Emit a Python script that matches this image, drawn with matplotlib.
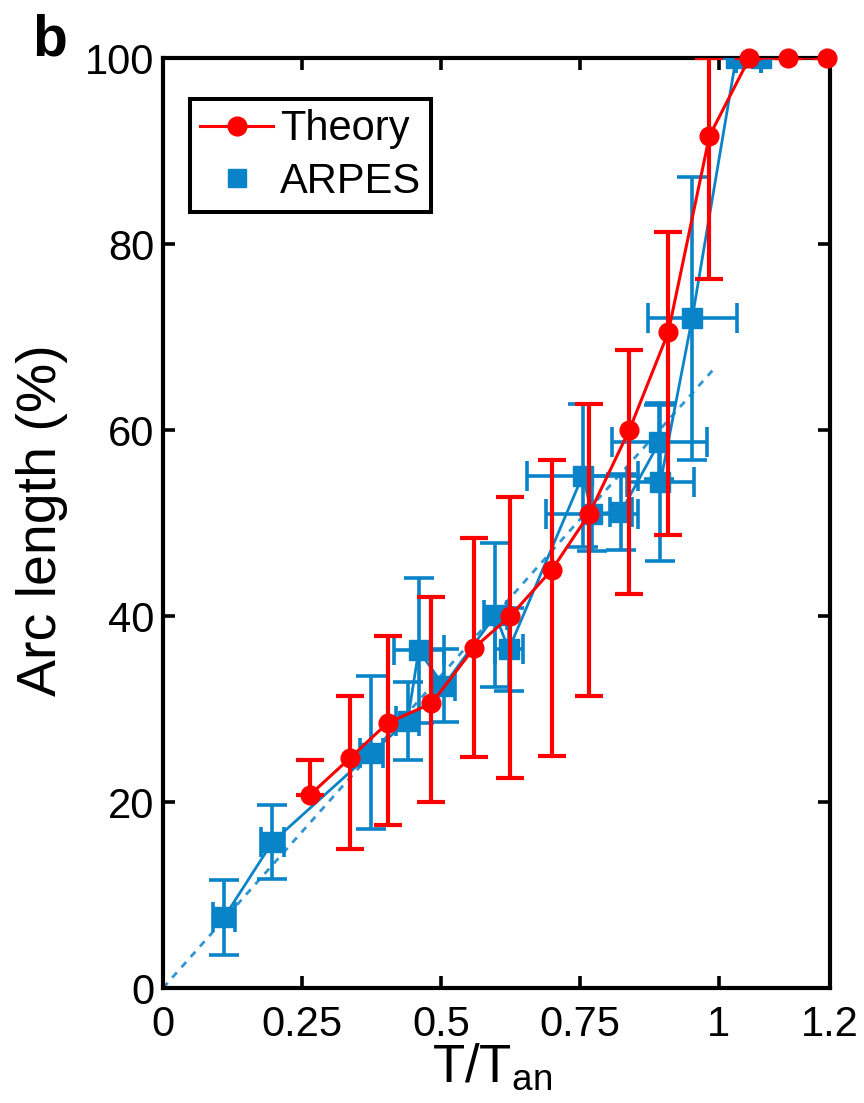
import numpy as np
import matplotlib
matplotlib.use('Agg')
import matplotlib.pyplot as plt
from matplotlib.lines import Line2D

plt.rcParams['font.family'] = ['Liberation Sans', 'DejaVu Sans']
plt.rcParams['mathtext.fontset'] = 'custom'
plt.rcParams['mathtext.rm'] = 'Liberation Sans'
plt.rcParams['mathtext.it'] = 'Liberation Sans:italic'

# Theory (red)
theory_x = [0.265, 0.336, 0.404, 0.483, 0.560, 0.625, 0.700, 0.767, 0.839, 0.909, 0.983, 1.055, 1.125, 1.195]
theory_y = [20.8, 24.7, 28.5, 30.6, 36.6, 40.0, 45.0, 51.0, 60.0, 70.5, 91.6, 100, 100, 100]
theory_lo = [0.0, 9.7, 11.0, 10.6, 11.8, 17.4, 20.1, 19.6, 17.6, 21.8, 15.4, 0, 0, 0]
theory_hi = [3.7, 6.7, 9.3, 11.4, 11.8, 12.8, 11.8, 11.8, 8.6, 10.8, 8.4, 0, 0, 0]

# ARPES (blue)
arpes_x = [0.110, 0.197, 0.375, 0.440, 0.460, 0.505, 0.598, 0.622, 0.755, 0.772, 0.824, 0.893, 0.895, 0.952, 1.031, 1.076]
arpes_y = [7.6, 15.7, 25.3, 28.7, 36.3, 32.5, 40.1, 36.4, 55.1, 51.0, 51.2, 58.7, 54.4, 72.0, 100, 100]
arpes_yerr = [4.0, 4.0, 8.2, 4.2, 7.8, 3.9, 7.7, 4.5, 7.7, 4.0, 4.1, 4.0, 8.5, 15.2, 0, 0]
arpes_xerr = [0.02, 0.02, 0.02, 0.02, 0.045, 0.02, 0.02, 0.025, 0.10, 0.083, 0.02, 0.085, 0.06, 0.08, 0, 0]

# linear fit through ARPES (dashed)
fit_x = [0.0, 0.99]
fit_y = [0.0, 66.5]

xticks = [0, 0.25, 0.5, 0.75, 1, 1.2]
xticklabels = ['0', '0.25', '0.5', '0.75', '1', '1.2']
yticks = [0, 20, 40, 60, 80, 100]

red = '#FF0000'
blue = '#0A84C8'

fig = plt.figure(figsize=(8.64, 11.03), dpi=100)
ax = fig.add_axes([163 / 864, 1 - 988 / 1103, 667 / 864, 930 / 1103])

ax.plot(fit_x, fit_y, color=blue, lw=2.0, dashes=(2.5, 2.5), alpha=0.85, zorder=2)
ax.plot(arpes_x, arpes_y, color=blue, lw=2.0, zorder=2)
ax.errorbar(arpes_x, arpes_y, xerr=arpes_xerr, yerr=arpes_yerr, fmt='none',
            ecolor=blue, elinewidth=2.6, capsize=11, capthick=2.6, zorder=3)
ax.plot(arpes_x, arpes_y, 's', color=blue, ms=14, mec=blue, zorder=4)

ax.errorbar(theory_x, theory_y, yerr=[theory_lo, theory_hi], fmt='none',
            ecolor=red, elinewidth=3.0, capsize=10, capthick=3.0, zorder=5)
ax.plot(theory_x, theory_y, '-', color=red, lw=2.2, zorder=6)
ax.plot(theory_x, theory_y, 'o', color=red, ms=13.5, mec=red, zorder=7, clip_on=False)

ax.set_xlim(0, 1.2)
ax.set_ylim(0, 100)
ax.set_xticks(xticks)
ax.set_xticklabels(xticklabels)
ax.set_yticks(yticks)
for s in ax.spines.values():
    s.set_linewidth(3)
ax.tick_params(direction='in', length=8.6, width=2.6, top=True, right=True, labelsize=30)
ax.tick_params(axis='x', pad=12)
ax.tick_params(axis='y', pad=6)

handles = [Line2D([], [], color=red, lw=2.2, marker='o', ms=13.5),
           Line2D([], [], color=blue, lw=0, marker='s', ms=13)]
leg = ax.legend(handles, ['Theory', 'ARPES'], loc='upper left', bbox_to_anchor=(0.040, 0.956),
                fontsize=30, frameon=True, fancybox=False, edgecolor='black', framealpha=1,
                borderpad=0.25, labelspacing=0.3, handlelength=1.76, handletextpad=0.15,
                borderaxespad=0)
leg.get_frame().set_linewidth(2.9)

fig.text(42 / 864, 1 - 520 / 1103, 'Arc length (%)', rotation=90, ha='center', va='center', fontsize=40)
fig.text(432 / 864, 1 - 1082 / 1103, r'T/T$_{\mathrm{an}}$', ha='left', va='baseline', fontsize=38)
fig.text(32 / 864, 1 - 55 / 1103, 'b', ha='left', va='baseline', fontsize=41, fontweight='bold')

fig.savefig('out.png', dpi=100)
